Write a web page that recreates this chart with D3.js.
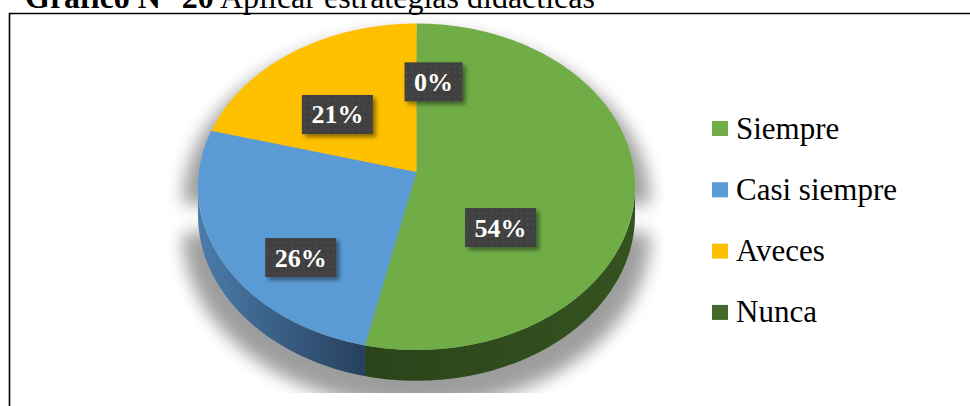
<!DOCTYPE html>
<html>
<head>
<meta charset="utf-8">
<script src="https://cdn.jsdelivr.net/npm/d3@7"></script>
<style>
  body { margin: 0; background: #fff; }
</style>
</head>
<body>
<script>
// data
var categories = ["Siempre", "Casi siempre", "Aveces", "Nunca"];
var values = [54, 26, 21, 0];
var labels = ["54%", "26%", "21%", "0%"];

// colours (top face, side left->right)
var topColors = ["#70ad47", "#5b9bd5", "#ffc000", "#43682b"];
var sideColors = [["#2b441b", "#34531f"], ["#4b7cab", "#26405c"], ["#c99700", "#a97f00"], ["#2a4019", "#2a4019"]];

var w = 970, h = 406;
var serif = "'Liberation Serif', 'Times New Roman', serif";

// pie geometry (tilted disc with a little perspective)
var cx = 416.5, cy = 172;
var R = 217.6, Rs = 161.9;
var u = 0.0904;   // perspective strength
var depth = 28;
var labelDrop = 16;

function proj(X, Y, dy) {
  var k = 1 / (1 - u * Y);
  return [cx + R * X * k, cy + Rs * Y * k + (dy || 0) * k];
}
function arcPts(a0, a1, dy) {
  var n = Math.max(2, Math.ceil((a1 - a0) / 0.02));
  return d3.range(n + 1).map(function(i) {
    var t = a0 + (a1 - a0) * i / n;
    return proj(Math.sin(t), -Math.cos(t), dy);
  });
}

var svg = d3.select("body")
  .append("svg")
  .attr("width", w)
  .attr("height", h);

var defs = svg.append("defs");

defs.append("filter").attr("id", "blur")
  .attr("x", "-20%").attr("y", "-20%").attr("width", "140%").attr("height", "140%")
  .append("feGaussianBlur").attr("stdDeviation", 8);

var ds = defs.append("filter").attr("id", "lblShadow")
  .attr("x", "-20%").attr("y", "-20%").attr("width", "150%").attr("height", "160%");
ds.append("feDropShadow").attr("dx", 3).attr("dy", 3).attr("stdDeviation", 2)
  .attr("flood-color", "#000").attr("flood-opacity", 0.45);

var pat = defs.append("pattern").attr("id", "dots")
  .attr("width", 6).attr("height", 6).attr("patternUnits", "userSpaceOnUse");
pat.append("rect").attr("width", 6).attr("height", 6).attr("fill", "#404040");
pat.append("circle").attr("cx", 3).attr("cy", 3).attr("r", 0.8).attr("fill", "#595959");

defs.append("clipPath").attr("id", "plotClip")
  .append("rect").attr("x", 10).attr("y", 14).attr("width", w).attr("height", 379);

// title (partly cut off at the top, as in the source)
var title = svg.append("text")
  .attr("x", 25)
  .attr("y", 8)
  .attr("font-family", serif)
  .attr("font-size", "32px")
  .attr("fill", "#000");
title.append("tspan").attr("font-weight", "bold").text("Gráfico N° 20");
title.append("tspan").text(" Aplicar estrategias didácticas");

// frame
svg.append("path")
  .attr("d", "M9.5," + h + "V13.5H" + w)
  .attr("fill", "none")
  .attr("stroke", "#000")
  .attr("stroke-width", 1.6);

var pie = d3.pie().sort(null).value(function(d) { return d; });
var arcs = pie(values);

var s1 = Math.acos(-u), s2 = 2 * Math.PI - s1;   // silhouette angles

var line = d3.line();

// soft shadow under the pie
var front = arcPts(s1, s2, depth).reverse();
var shadowPts = arcPts(s2, 2 * Math.PI).concat(arcPts(0, s1)).concat(front);
svg.append("g")
  .attr("clip-path", "url(#plotClip)")
  .append("path")
  .attr("d", line(shadowPts) + "Z")
  .attr("transform", "translate(" + cx + "," + (cy + 16) + ") scale(1.07,1.05) translate(" + (-cx) + "," + (-cy) + ")")
  .attr("fill", "#000")
  .attr("opacity", 0.38)
  .attr("filter", "url(#blur)");

// side faces
var sides = svg.append("g");
arcs.forEach(function(d, i) {
  var a0 = Math.max(d.startAngle, s1), a1 = Math.min(d.endAngle, s2);
  d.sidePoly = null;
  if (a1 <= a0) return;
  var topEdge = arcPts(a0, a1);
  var botEdge = arcPts(a0, a1, depth).reverse();
  var poly = topEdge.concat(botEdge);
  d.sidePoly = poly;
  var xs = topEdge.map(function(p) { return p[0]; });
  var g = defs.append("linearGradient").attr("id", "side" + i)
    .attr("gradientUnits", "userSpaceOnUse")
    .attr("x1", d3.min(xs)).attr("x2", d3.max(xs)).attr("y1", 0).attr("y2", 0);
  g.append("stop").attr("offset", 0).attr("stop-color", sideColors[i][0]);
  g.append("stop").attr("offset", 1).attr("stop-color", sideColors[i][1]);
  sides.append("path")
    .attr("d", line(poly) + "Z")
    .attr("fill", "url(#side" + i + ")");
});

// top faces
var tops = svg.append("g");
arcs.forEach(function(d, i) {
  var poly = [[cx, cy]].concat(arcPts(d.startAngle, d.endAngle));
  d.topPoly = poly;
  if (d.endAngle - d.startAngle <= 0) return;
  tops.append("path")
    .attr("d", line(poly) + "Z")
    .attr("fill", topColors[i]);
});

// label anchor: area weighted centre of the visible slice
arcs.forEach(function(d) {
  var polys = [d.topPoly];
  if (d.sidePoly) polys.push(d.sidePoly);
  var A = 0, X = 0, Y = 0;
  polys.forEach(function(p) {
    var a = Math.abs(d3.polygonArea(p));
    if (a < 1) return;
    var c = d3.polygonCentroid(p);
    A += a; X += a * c[0]; Y += a * c[1];
  });
  if (A > 0) {
    d.lx = X / A; d.ly = Y / A + labelDrop;
  } else {
    // empty slice: put the label just beside its edge
    var m = (d.startAngle + d.endAngle) / 2;
    var p = proj(0.6 * Math.sin(m), -0.6 * Math.cos(m));
    d.lx = p[0] + 17; d.ly = p[1] + 2;
  }
});

// data labels
var lbl = svg.append("g").selectAll("g")
  .data(arcs)
  .enter()
  .append("g")
  .attr("transform", function(d) { return "translate(" + d.lx + "," + d.ly + ")"; });

var lblBox = lbl.append("rect")
  .attr("fill", "url(#dots)")
  .attr("filter", "url(#lblShadow)");

var lblText = lbl.append("text")
  .text(function(d, i) { return labels[i]; })
  .attr("text-anchor", "middle")
  .attr("y", 9)
  .attr("font-family", serif)
  .attr("font-weight", "bold")
  .attr("font-size", "26px")
  .attr("fill", "#fff");

lblText.each(function(d) { d.tw = this.getComputedTextLength(); });
lblBox
  .attr("x", function(d) { return -(d.tw + 19) / 2; })
  .attr("y", -19.5)
  .attr("width", function(d) { return d.tw + 19; })
  .attr("height", 39);

// legend
var legend = svg.append("g").selectAll("g")
  .data(categories)
  .enter()
  .append("g")
  .attr("transform", function(d, i) { return "translate(712," + (128.5 + i * 61.3) + ")"; });

legend.append("rect")
  .attr("x", 0)
  .attr("y", -7.5)
  .attr("width", 16)
  .attr("height", 15)
  .attr("fill", function(d, i) { return topColors[i]; });

legend.append("text")
  .text(function(d) { return d; })
  .attr("x", 24)
  .attr("y", 10)
  .attr("font-family", serif)
  .attr("font-size", "31px")
  .attr("fill", "#000");
</script>
</body>
</html>
